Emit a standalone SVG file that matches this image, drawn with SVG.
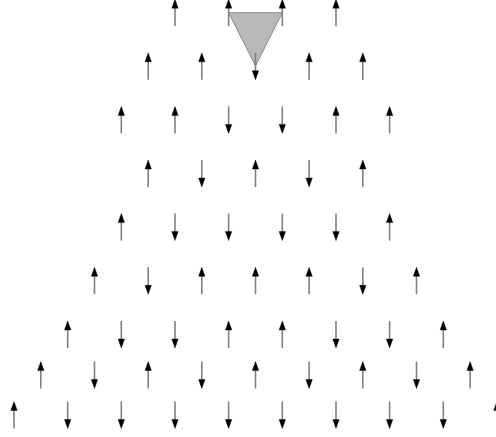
<svg xmlns="http://www.w3.org/2000/svg" xmlns:xlink="http://www.w3.org/1999/xlink" width="496" height="437" viewBox="0 0 496 437">
<style>
.shaft{stroke:#808080;stroke-width:1.6;fill:none}
.head{fill:#000;stroke:#000;stroke-width:0.4}
.tri{fill:#b8b8b8;stroke:#888;stroke-width:1}
</style>
<defs>
<g id="up"><line class="shaft" x1="0" y1="13.5" x2="0" y2="-6"/><polygon class="head" points="0,-13.5 -3.2,-4.5 3.2,-4.5"/></g>
<g id="dn"><line class="shaft" x1="0" y1="-13.5" x2="0" y2="6"/><polygon class="head" points="0,13.5 -3.2,4.5 3.2,4.5"/></g>
</defs>
<rect width="496" height="437" fill="#fff"/>
<g id="triangle"><polygon class="tri" points="228.6,12.7 282.3,12.7 255.5,66"/></g>
<g id="row1">
<g id="r1a"><use xlink:href="#up" x="175" y="12.7"/></g>
<g id="r1b"><use xlink:href="#up" x="228.6" y="12.7"/></g>
<g id="r1c"><use xlink:href="#up" x="282.3" y="12.7"/></g>
<g id="r1d"><use xlink:href="#up" x="336" y="12.7"/></g>
</g>
<g id="row2">
<g id="r2a"><use xlink:href="#up" x="148.2" y="66.3"/></g>
<g id="r2b"><use xlink:href="#up" x="201.8" y="66.3"/></g>
<g id="r2c"><use xlink:href="#dn" x="255.5" y="66.3"/></g>
<g id="r2d"><use xlink:href="#up" x="309.1" y="66.3"/></g>
<g id="r2e"><use xlink:href="#up" x="362.8" y="66.3"/></g>
</g>
<g id="row3">
<g id="r3a"><use xlink:href="#up" x="121.3" y="119.9"/></g>
<g id="r3b"><use xlink:href="#up" x="175" y="119.9"/></g>
<g id="r3c"><use xlink:href="#dn" x="228.6" y="119.9"/></g>
<g id="r3d"><use xlink:href="#dn" x="282.3" y="119.9"/></g>
<g id="r3e"><use xlink:href="#up" x="336" y="119.9"/></g>
<g id="r3f"><use xlink:href="#up" x="389.6" y="119.9"/></g>
</g>
<g id="row4">
<g id="r4a"><use xlink:href="#up" x="148.2" y="173.5"/></g>
<g id="r4b"><use xlink:href="#dn" x="201.8" y="173.5"/></g>
<g id="r4c"><use xlink:href="#up" x="255.5" y="173.5"/></g>
<g id="r4d"><use xlink:href="#dn" x="309.1" y="173.5"/></g>
<g id="r4e"><use xlink:href="#up" x="362.8" y="173.5"/></g>
</g>
<g id="row5">
<g id="r5a"><use xlink:href="#up" x="121.3" y="227.1"/></g>
<g id="r5b"><use xlink:href="#dn" x="175" y="227.1"/></g>
<g id="r5c"><use xlink:href="#dn" x="228.6" y="227.1"/></g>
<g id="r5d"><use xlink:href="#dn" x="282.3" y="227.1"/></g>
<g id="r5e"><use xlink:href="#dn" x="336" y="227.1"/></g>
<g id="r5f"><use xlink:href="#up" x="389.6" y="227.1"/></g>
</g>
<g id="row6">
<g id="r6a"><use xlink:href="#up" x="94.5" y="280.8"/></g>
<g id="r6b"><use xlink:href="#dn" x="148.2" y="280.8"/></g>
<g id="r6c"><use xlink:href="#up" x="201.8" y="280.8"/></g>
<g id="r6d"><use xlink:href="#up" x="255.5" y="280.8"/></g>
<g id="r6e"><use xlink:href="#up" x="309.1" y="280.8"/></g>
<g id="r6f"><use xlink:href="#dn" x="362.8" y="280.8"/></g>
<g id="r6g"><use xlink:href="#up" x="416.5" y="280.8"/></g>
</g>
<g id="row7">
<g id="r7a"><use xlink:href="#up" x="67.7" y="334.5"/></g>
<g id="r7b"><use xlink:href="#dn" x="121.3" y="334.5"/></g>
<g id="r7c"><use xlink:href="#dn" x="175" y="334.5"/></g>
<g id="r7d"><use xlink:href="#up" x="228.6" y="334.5"/></g>
<g id="r7e"><use xlink:href="#up" x="282.3" y="334.5"/></g>
<g id="r7f"><use xlink:href="#dn" x="336" y="334.5"/></g>
<g id="r7g"><use xlink:href="#dn" x="389.6" y="334.5"/></g>
<g id="r7h"><use xlink:href="#up" x="443.3" y="334.5"/></g>
</g>
<g id="row8">
<g id="r8a"><use xlink:href="#up" x="40.8" y="375"/></g>
<g id="r8b"><use xlink:href="#dn" x="94.5" y="375"/></g>
<g id="r8c"><use xlink:href="#up" x="148.2" y="375"/></g>
<g id="r8d"><use xlink:href="#dn" x="201.8" y="375"/></g>
<g id="r8e"><use xlink:href="#up" x="255.5" y="375"/></g>
<g id="r8f"><use xlink:href="#dn" x="309.1" y="375"/></g>
<g id="r8g"><use xlink:href="#up" x="362.8" y="375"/></g>
<g id="r8h"><use xlink:href="#dn" x="416.5" y="375"/></g>
<g id="r8i"><use xlink:href="#up" x="470.1" y="375"/></g>
</g>
<g id="row9">
<g id="r9a"><use xlink:href="#up" x="14" y="415"/></g>
<g id="r9b"><use xlink:href="#dn" x="67.7" y="415"/></g>
<g id="r9c"><use xlink:href="#dn" x="121.3" y="415"/></g>
<g id="r9d"><use xlink:href="#dn" x="175" y="415"/></g>
<g id="r9e"><use xlink:href="#dn" x="228.6" y="415"/></g>
<g id="r9f"><use xlink:href="#dn" x="282.3" y="415"/></g>
<g id="r9g"><use xlink:href="#dn" x="336" y="415"/></g>
<g id="r9h"><use xlink:href="#dn" x="389.6" y="415"/></g>
<g id="r9i"><use xlink:href="#dn" x="443.3" y="415"/></g>
<g id="r9j"><use xlink:href="#up" x="496.9" y="415"/></g>
</g>
<g id="connectors"/>
</svg>
